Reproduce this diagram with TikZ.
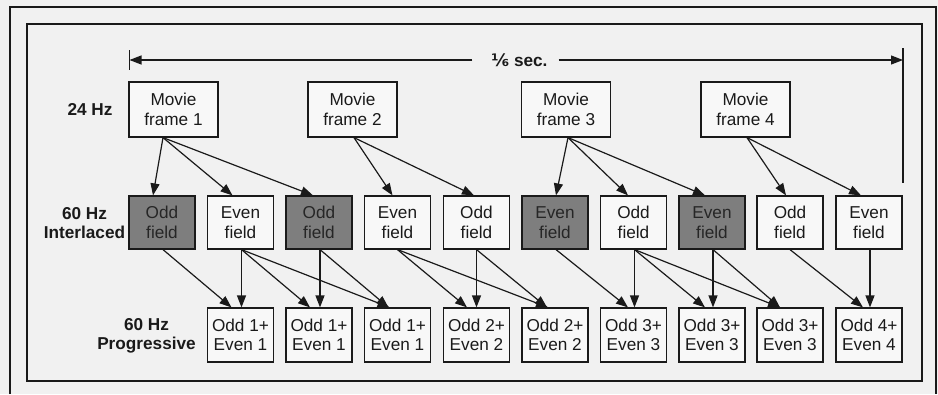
\documentclass[tikz,border=0pt]{standalone}
\usepackage{fontspec}
\setmainfont{Liberation Sans}
\newfontfamily\djv{DejaVu Sans}
\usetikzlibrary{arrows.meta,calc}
\definecolor{bg}{HTML}{F1F1F1}
\definecolor{boxw}{HTML}{F8F8F8}
\definecolor{boxg}{HTML}{7E7E7E}
\definecolor{ink}{HTML}{1A1A1A}
\begin{document}
\begin{tikzpicture}[x=1pt,y=-1pt,
  every node/.style={font=\fontsize{17.2}{19.5}\selectfont, text=ink},
  box/.style={draw=ink, line width=1.2pt, fill=boxw, inner sep=0pt, align=center, minimum height=53pt, minimum width=66pt},
  mbox/.style={box, minimum width=89pt, minimum height=55pt},
  gbox/.style={box, fill=boxg, text=black!85},
  pbox/.style={box, minimum height=54pt},
  lab/.style={font=\fontsize{17.2}{19.5}\selectfont\bfseries, align=center, inner sep=0pt},
  frame/.style={draw=ink, line width=2pt},
  arr/.style={-{Triangle[length=12pt,width=9pt]}, line width=1.2pt, draw=ink}]
\useasboundingbox (0,0) rectangle (938,394);
\fill[bg] (0,0) rectangle (938,394);
% frames
\draw[frame] (10,394) -- (10,7) -- (936,7) -- (936,394);
\draw[frame] (27,24) rectangle (922,381);
% time bar
\coordinate (tl) at (129.5,60);
\coordinate (tr) at (903,60);
\coordinate (tlt) at (129.5,50);
\coordinate (tlb) at (129.5,70);
\coordinate (trt) at (903,48);
\coordinate (trb) at (903,183);
\node[lab] (sec) at (519.5,60) {{\djv\bfseries ⅙} sec.};
\draw[line width=1.2pt, draw=ink] (tlt) -- (tlb);
\draw[line width=1.2pt, draw=ink] (trt) -- (trb);
\draw[arr] ($(sec.west)+(-19,0)$) -- (tl);
\draw[arr] ($(sec.east)+(11,0)$) -- (tr);
% row labels
\node[lab] (l24) at (90,109.5) {24 Hz};
\node[lab] (l60i) at (84.5,223) {60 Hz\\Interlaced};
\node[lab] (l60p) at (146.5,336) {60 Hz\\Progressive};
% movie frames
\node[mbox] (f1) at (173.5,109.5) {Movie\\frame 1};
\node[mbox] (f2) at (352.5,109.5) {Movie\\frame 2};
\node[mbox] (f3) at (566,109.5) {Movie\\frame 3};
\node[mbox] (f4) at (745.5,109.5) {Movie\\frame 4};
% fields
\node[gbox] (b1)  at (162,222.5)   {Odd\\field};
\node[box]  (b2)  at (240.5,222.5) {Even\\field};
\node[gbox] (b3)  at (319,222.5)   {Odd\\field};
\node[box]  (b4)  at (397.5,222.5) {Even\\field};
\node[box]  (b5)  at (476.5,222.5) {Odd\\field};
\node[gbox] (b6)  at (555,222.5)   {Even\\field};
\node[box]  (b7)  at (633.5,222.5) {Odd\\field};
\node[gbox] (b8)  at (712,222.5)   {Even\\field};
\node[box]  (b9)  at (790,222.5)   {Odd\\field};
\node[box]  (b10) at (869,222.5)   {Even\\field};
% progressive
\node[pbox] (p1) at (240.5,335) {Odd 1+\\Even 1};
\node[pbox] (p2) at (319,335)   {Odd 1+\\Even 1};
\node[pbox] (p3) at (397.5,335) {Odd 1+\\Even 1};
\node[pbox] (p4) at (476.5,335) {Odd 2+\\Even 2};
\node[pbox] (p5) at (555,335)   {Odd 2+\\Even 2};
\node[pbox] (p6) at (633.5,335) {Odd 3+\\Even 3};
\node[pbox] (p7) at (712,335)   {Odd 3+\\Even 3};
\node[pbox] (p8) at (790,335)   {Odd 3+\\Even 3};
\node[pbox] (p9) at (869,335)   {Odd 4+\\Even 4};
% frames -> fields
\draw[arr] ($(f1.south)+(-10.5,0)$) -- ($(b1.north)+(-9,0)$);
\draw[arr] ($(f1.south)+(-10.5,0)$) -- ($(b2.north)+(-8,0)$);
\draw[arr] ($(f1.south)+(-10.5,0)$) -- ($(b3.north)+(-6,0)$);
\draw[arr] ($(f2.south)+(1.5,0)$) -- ($(b4.north)+(-5,0)$);
\draw[arr] ($(f2.south)+(1.5,0)$) -- ($(b5.north)+(-2.5,0)$);
\draw[arr] ($(f3.south)+(2,0)$) -- ($(b6.north)+(1,0)$);
\draw[arr] ($(f3.south)+(2,0)$) -- ($(b7.north)+(-5.5,0)$);
\draw[arr] ($(f3.south)+(2,0)$) -- ($(b8.north)+(-7,0)$);
\draw[arr] ($(f4.south)+(1.5,0)$) -- ($(b9.north)+(-4,0)$);
\draw[arr] ($(f4.south)+(1.5,0)$) -- ($(b10.north)+(-8,0)$);
% fields -> progressive
\draw[arr] ($(b1.south)+(1,0)$) -- ($(p1.north)+(-9,0)$);
\draw[arr] ($(b2.south)+(1,0)$) -- ($(p1.north)+(1,0)$);
\draw[arr] ($(b2.south)+(1,0)$) -- ($(p2.north)+(-9,0)$);
\draw[arr] ($(b2.south)+(1,0)$) -- ($(p3.north)+(-8,0)$);
\draw[arr] ($(b3.south)+(1,0)$) -- ($(p2.north)+(1,0)$);
\draw[arr] ($(b3.south)+(1,0)$) -- ($(p3.north)+(-9,0)$);
\draw[arr] ($(b4.south)+(0,0)$) -- ($(p4.north)+(-9.5,0)$);
\draw[arr] ($(b4.south)+(0,0)$) -- ($(p5.north)+(-7,0)$);
\draw[arr] ($(b5.south)+(0,0)$) -- ($(p4.north)+(0,0)$);
\draw[arr] ($(b5.south)+(0,0)$) -- ($(p5.north)+(-8,0)$);
\draw[arr] ($(b6.south)+(1,0)$) -- ($(p6.north)+(-5.5,0)$);
\draw[arr] ($(b7.south)+(1,0)$) -- ($(p6.north)+(1,0)$);
\draw[arr] ($(b7.south)+(1,0)$) -- ($(p7.north)+(-7,0)$);
\draw[arr] ($(b7.south)+(1,0)$) -- ($(p8.north)+(-10,0)$);
\draw[arr] ($(b8.south)+(1,0)$) -- ($(p7.north)+(1,0)$);
\draw[arr] ($(b8.south)+(1,0)$) -- ($(p8.north)+(-10,0)$);
\draw[arr] ($(b9.south)+(0,0)$) -- ($(p9.north)+(-6,0)$);
\draw[arr] ($(b10.south)+(1,0)$) -- ($(p9.north)+(1,0)$);
\end{tikzpicture}
\end{document}
